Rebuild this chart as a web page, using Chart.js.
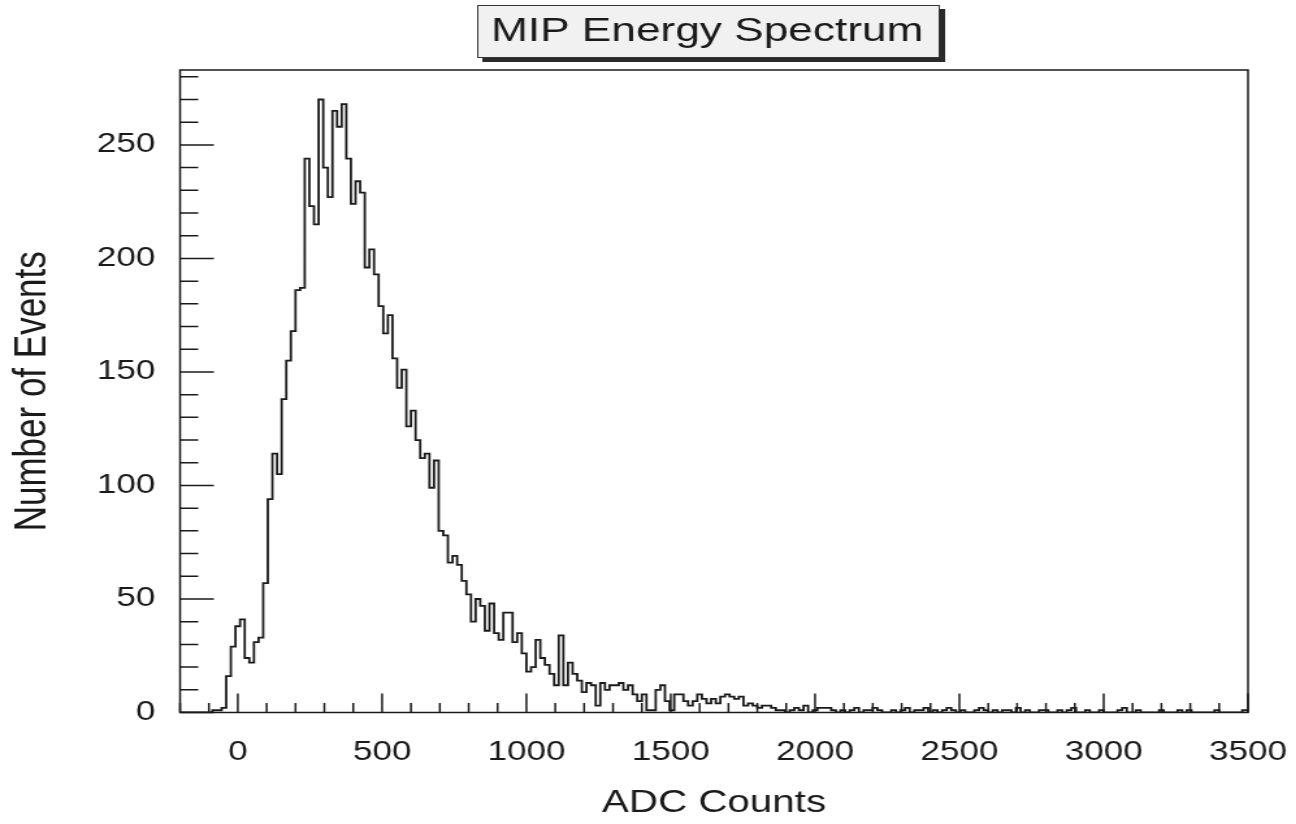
<!DOCTYPE html>
<html lang="en">
<head>
  <meta charset="UTF-8" />
  <title>MIP Energy Spectrum</title>
  <script src="https://cdn.jsdelivr.net/npm/chart.js"></script>
  <style>
    html, body { margin: 0; padding: 0; background: #fff; }
    /* the original picture is stretched sideways, so the canvas is too */
    #spectrum { display: block; transform: scaleX(1.3); transform-origin: 0 0; }
  </style>
</head>
<body>
  <canvas id="spectrum" width="997" height="824"></canvas>

  <script>
    // histogram: 16 ADC counts per bin, first bin starts at -200
    const binStart = -200;
    const binWidth = 16;
    const counts = [
      0, 0, 0, 0, 0, 0, 0, 1, 1, 2,
      16, 29, 38, 41, 24, 22, 31, 33, 57, 94,
      114, 105, 138, 155, 168, 186, 187, 244, 223, 215,
      270, 240, 227, 265, 258, 268, 244, 224, 234, 229,
      196, 204, 193, 179, 167, 175, 156, 143, 151, 126,
      133, 120, 112, 114, 99, 111, 80, 78, 66, 69,
      65, 58, 52, 40, 50, 47, 36, 48, 35, 32,
      44, 44, 31, 35, 26, 18, 20, 32, 24, 21,
      17, 12, 34, 12, 22, 17, 14, 9, 13, 12,
      3, 13, 10, 12, 12, 13, 10, 12, 8, 5,
      8, 1, 1, 10, 12, 5, 1, 8, 8, 5,
      3, 5, 8, 6, 4, 6, 4, 7, 8, 7,
      6, 7, 3, 4, 3, 2, 3, 3, 2, 1,
      1, 0, 1, 2, 1, 3, 0, 1, 2, 2,
      2, 1, 0, 1, 0, 1, 2, 0, 1, 1,
      2, 1, 0, 0, 1, 0, 1, 2, 0, 1,
      1, 2, 0, 1, 0, 1, 2, 1, 0, 1,
      0, 0, 1, 2, 1, 0, 1, 0, 1, 1,
      0, 2, 0, 1, 0, 0, 1, 1, 0, 0,
      1, 0, 1, 2, 0, 0, 1, 0, 0, 1,
      0, 0, 0, 1, 2, 0, 0, 1, 0, 0,
      0, 0, 1, 0, 0, 0, 1, 0, 1, 0,
      0, 0, 0, 0, 1, 0, 0, 0, 0, 0, 1
    ];

    const xTicks = [0, 500, 1000, 1500, 2000, 2500, 3000, 3500];
    const yTicks = [0, 50, 100, 150, 200, 250];
    const xRange = [-200, 3500];
    const yRange = [0, 283];

    const titleText = "MIP Energy Spectrum";
    const xTitle = "ADC Counts";
    const yTitle = "Number of Events";

    const fontFamily = '"Liberation Sans", Arial, Helvetica, sans-serif';
    const ink = "#1a1a1a";

    // left edge of every bin, then one closing point at the axis end
    const points = counts.map((c, i) => ({ x: binStart + i * binWidth, y: c }));
    points.push({ x: xRange[1], y: 0 });

    // ROOT style frame with inward ticks (major + minor)
    const frameTicks = {
      id: "frameTicks",
      afterDatasetsDraw(chart) {
        const { ctx, chartArea: a, scales } = chart;
        ctx.save();
        ctx.strokeStyle = ink;
        ctx.lineWidth = 1.5;
        ctx.strokeRect(a.left, a.top, a.right - a.left, a.bottom - a.top);

        ctx.beginPath();
        for (let v = xRange[0]; v <= xRange[1]; v += 100) {
          const px = scales.x.getPixelForValue(v);
          const len = v % 500 === 0 ? 19 : 9.5;
          ctx.moveTo(px, a.bottom);
          ctx.lineTo(px, a.bottom - len);
        }
        for (let v = 0; v <= yRange[1]; v += 10) {
          const py = scales.y.getPixelForValue(v);
          const len = v % 50 === 0 ? 26 : 14;
          ctx.moveTo(a.left, py);
          ctx.lineTo(a.left + len, py);
        }
        ctx.stroke();
        ctx.restore();
      }
    };

    // title pave: grey box with a dark drop shadow
    const titleBox = {
      id: "titleBox",
      afterDraw(chart) {
        const { ctx } = chart;
        const x = 367, y = 5, w = 356, h = 53;
        ctx.save();
        ctx.fillStyle = "#2a2a2a";
        ctx.fillRect(x + 4, y + 4, w, h);
        ctx.fillStyle = "#f1f1f1";
        ctx.fillRect(x, y, w, h);
        ctx.strokeStyle = "#333";
        ctx.lineWidth = 1;
        ctx.strokeRect(x + 0.5, y + 0.5, w - 1, h - 1);
        ctx.fillStyle = ink;
        ctx.font = "34px " + fontFamily;
        ctx.textAlign = "center";
        ctx.textBaseline = "alphabetic";
        ctx.fillText(titleText, x + w / 2 - 1, y + 36);
        ctx.restore();
      }
    };

    new Chart(document.getElementById("spectrum"), {
      type: "line",
      data: {
        datasets: [{
          data: points,
          stepped: true,
          borderColor: ink,
          borderWidth: 1.8,
          pointRadius: 0,
          fill: false
        }]
      },
      options: {
        responsive: false,
        animation: false,
        devicePixelRatio: 1,
        layout: { padding: { left: 0, right: 37, top: 70, bottom: 0 } },
        plugins: {
          legend: { display: false },
          title: { display: false },
          tooltip: { enabled: false }
        },
        scales: {
          x: {
            type: "linear",
            min: xRange[0],
            max: xRange[1],
            afterBuildTicks: (s) => { s.ticks = xTicks.map(v => ({ value: v })); },
            afterFit: (s) => {
              s.height = 111.5;
              s.paddingLeft = 0;
              s.paddingRight = 0;
            },
            grid: { display: false, drawTicks: false },
            border: { display: false },
            ticks: {
              padding: 24,
              maxRotation: 0,
              autoSkip: false,
              color: ink,
              font: { size: 27, family: fontFamily },
              callback: (v) => String(v)
            },
            title: {
              display: true,
              text: xTitle,
              color: ink,
              padding: { top: 0, bottom: 2 },
              font: { size: 31, family: fontFamily }
            }
          },
          y: {
            type: "linear",
            min: yRange[0],
            max: yRange[1],
            afterBuildTicks: (s) => { s.ticks = yTicks.map(v => ({ value: v })); },
            afterFit: (s) => { s.width = 138.5; },
            grid: { display: false, drawTicks: false },
            border: { display: false },
            ticks: {
              padding: 19,
              autoSkip: false,
              color: ink,
              font: { size: 27, family: fontFamily },
              callback: (v) => String(v)
            },
            title: {
              display: true,
              text: yTitle,
              color: ink,
              padding: { top: 4, bottom: 0 },
              font: { size: 35, family: fontFamily }
            }
          }
        }
      },
      plugins: [frameTicks, titleBox]
    });
  </script>
</body>
</html>
